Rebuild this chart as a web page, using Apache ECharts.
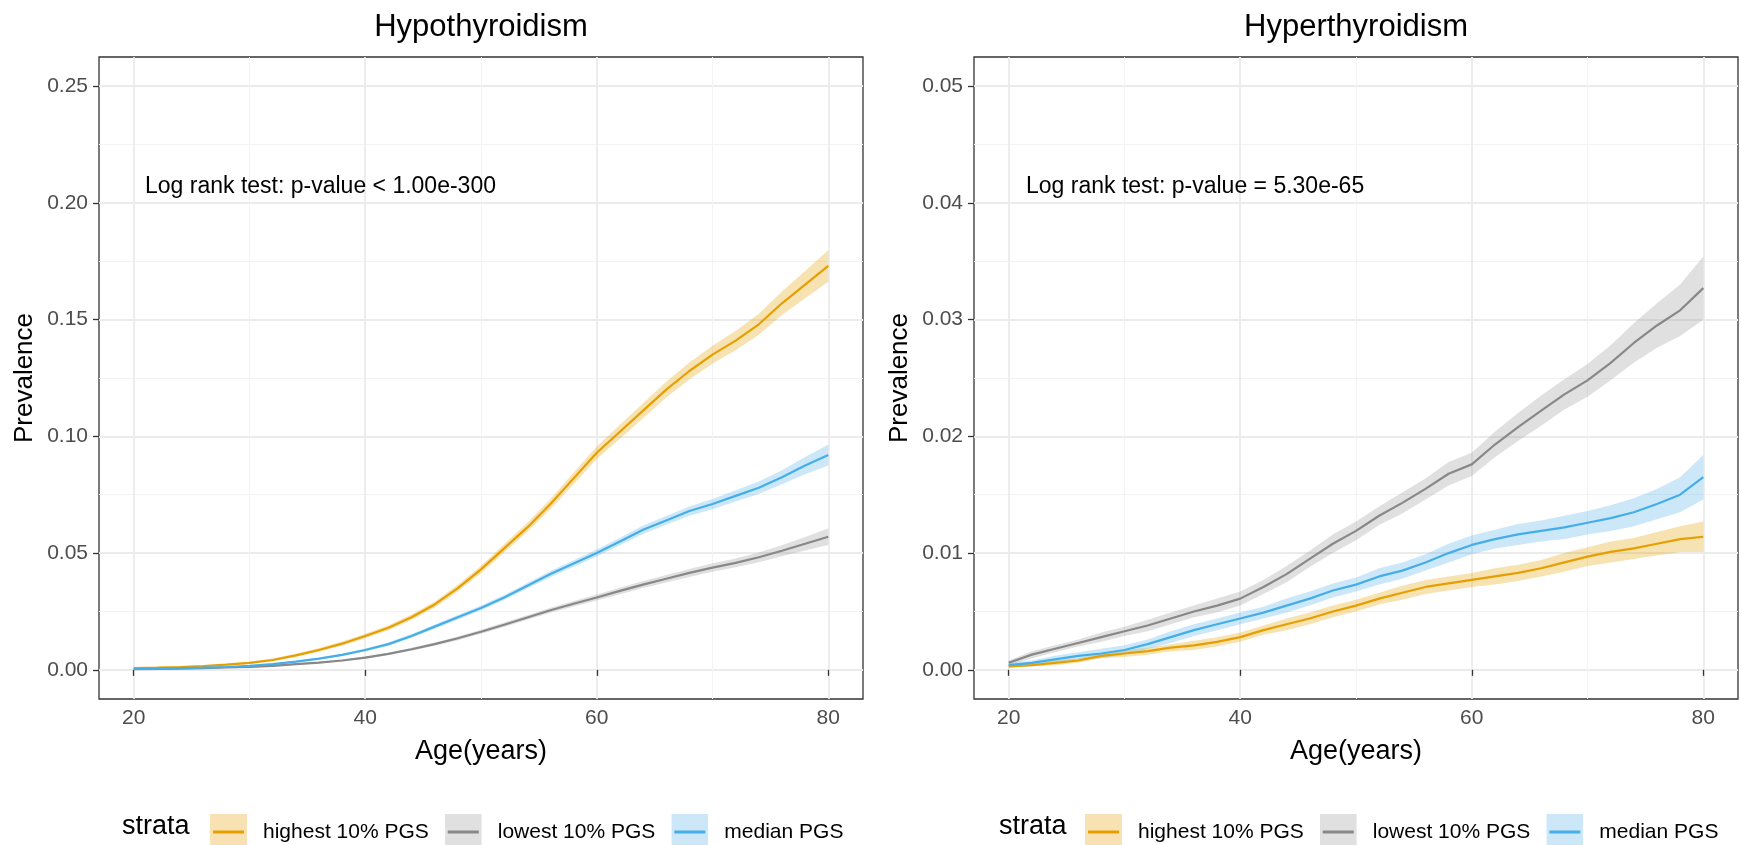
<!DOCTYPE html>
<html>
<head>
<meta charset="utf-8">
<script src="https://cdn.jsdelivr.net/npm/echarts@6/dist/echarts.min.js"></script>
<style>html,body{margin:0;padding:0;background:#fff;}#c{width:1741px;height:845px;}</style>
</head>
<body>
<div id="c"></div>
<script>
// ---------------- DATA ----------------
const ages = [20,22,24,26,28,30,32,34,36,38,40,42,44,46,48,50,52,54,56,58,60,62,64,66,68,70,72,74,76,78,80];
const strata = ['highest 10% PGS', 'lowest 10% PGS', 'median PGS'];

// Hypothyroidism (cumulative prevalence)
const hypoHigh = [0.0007,0.0009,0.0012,0.0016,0.0022,0.003,0.0042,0.0062,0.0085,0.0112,0.0145,0.018,0.0225,0.028,0.035,0.043,0.052,0.061,0.071,0.082,0.093,0.102,0.111,0.12,0.128,0.135,0.141,0.148,0.157,0.165,0.173];
const hypoLow  = [0.0003,0.0004,0.0005,0.0007,0.001,0.0013,0.0017,0.0024,0.0031,0.004,0.0052,0.0068,0.0088,0.011,0.0135,0.0163,0.0193,0.0224,0.0255,0.0283,0.031,0.0338,0.0365,0.039,0.0415,0.0438,0.0458,0.0482,0.051,0.054,0.057];
const hypoMed  = [0.0004,0.0005,0.0007,0.0009,0.0012,0.0017,0.0024,0.0035,0.0048,0.0064,0.0085,0.011,0.0145,0.0185,0.0225,0.0265,0.031,0.036,0.041,0.0455,0.05,0.055,0.06,0.064,0.068,0.071,0.0745,0.078,0.0825,0.0875,0.092];
// confidence band half-widths
const hypoHighCI = [0.0002,0.0002,0.0003,0.0003,0.0004,0.0005,0.0006,0.0007,0.0008,0.0009,0.001,0.0011,0.0012,0.0013,0.0014,0.0016,0.0018,0.002,0.0022,0.0025,0.0027,0.003,0.0032,0.0034,0.0036,0.0038,0.0041,0.0045,0.005,0.0058,0.0068];
const hypoLowCI  = [0.0001,0.0001,0.0001,0.0002,0.0002,0.0002,0.0003,0.0003,0.0004,0.0004,0.0005,0.0005,0.0006,0.0007,0.0008,0.0009,0.001,0.001,0.0011,0.0012,0.0013,0.0014,0.0015,0.0016,0.0017,0.0018,0.0019,0.0021,0.0024,0.0029,0.0035];
const hypoMedCI  = [0.0001,0.0001,0.0001,0.0002,0.0002,0.0002,0.0003,0.0003,0.0004,0.0005,0.0006,0.0007,0.0008,0.0009,0.001,0.001,0.0011,0.0012,0.0013,0.0014,0.0015,0.0016,0.0018,0.0019,0.002,0.0022,0.0024,0.0027,0.003,0.0037,0.0045];

// Hyperthyroidism
const hyperHigh = [0.0003,0.0004,0.0006,0.0008,0.0012,0.0014,0.0016,0.0019,0.0021,0.0024,0.0028,0.0034,0.0039,0.0044,0.005,0.0055,0.0061,0.0066,0.0071,0.0074,0.0077,0.008,0.0083,0.0087,0.0092,0.0097,0.0101,0.0104,0.0108,0.0112,0.0114];
const hyperLow  = [0.0006,0.0013,0.0018,0.0023,0.0028,0.0033,0.0038,0.0044,0.005,0.0055,0.0061,0.0071,0.0082,0.0095,0.0108,0.0119,0.0132,0.0143,0.0155,0.0168,0.0176,0.0193,0.0208,0.0222,0.0236,0.0248,0.0263,0.028,0.0295,0.0308,0.0327];
const hyperMed  = [0.0004,0.0006,0.0009,0.0012,0.0014,0.0017,0.0022,0.0028,0.0034,0.0039,0.0044,0.0049,0.0055,0.0061,0.0068,0.0073,0.008,0.0085,0.0092,0.01,0.0107,0.0112,0.0116,0.0119,0.0122,0.0126,0.013,0.0135,0.0142,0.015,0.0165];
const hyperHighCI = [0.0001,0.0001,0.0002,0.0002,0.0002,0.0003,0.0003,0.0003,0.0004,0.0004,0.0004,0.0004,0.0005,0.0005,0.0005,0.0005,0.0005,0.0006,0.0006,0.0006,0.0006,0.0007,0.0007,0.0007,0.0008,0.0008,0.0009,0.0009,0.001,0.0011,0.0013];
const hyperLowCI  = [0.0002,0.0003,0.0003,0.0003,0.0004,0.0004,0.0005,0.0005,0.0005,0.0006,0.0006,0.0006,0.0007,0.0007,0.0008,0.0008,0.0008,0.0009,0.0009,0.001,0.001,0.0011,0.0012,0.0013,0.0013,0.0014,0.0015,0.0017,0.0019,0.0022,0.0027];
const hyperMedCI  = [0.0002,0.0002,0.0003,0.0003,0.0004,0.0004,0.0004,0.0005,0.0005,0.0005,0.0005,0.0005,0.0006,0.0006,0.0006,0.0006,0.0007,0.0007,0.0007,0.0008,0.0008,0.0008,0.0009,0.0009,0.001,0.001,0.0011,0.0012,0.0013,0.0015,0.0019];

const xTicks = [20, 40, 60, 80];
const xMinor = [30, 50, 70];
const hypoYTicks = [0, 0.05, 0.10, 0.15, 0.20, 0.25];
const hypoYMinor = [0.025, 0.075, 0.125, 0.175, 0.225];
const hyperYTicks = [0, 0.01, 0.02, 0.03, 0.04, 0.05];
const hyperYMinor = [0.005, 0.015, 0.025, 0.035, 0.045];
const titles = ['Hypothyroidism', 'Hyperthyroidism'];
const pTexts = ['Log rank test: p-value < 1.00e-300', 'Log rank test: p-value = 5.30e-65'];

// ---------------- STYLE ----------------
const FONT = "'Liberation Sans', Arial, Helvetica, sans-serif";
const lineColors = ['#E69F00', '#888888', '#45AEE8'];
const bandColors = ['rgba(230,159,0,0.30)', 'rgba(153,153,153,0.30)', 'rgba(86,180,233,0.30)'];
const keyFill = ['#F8E2B3', '#E0E0E0', '#CCE8F8'];

const panels = [
  { left: 99, yMin: -0.0125, yMax: 0.2625, ticks: hypoYTicks, minor: hypoYMinor,
    series: [hypoHigh, hypoLow, hypoMed], ci: [hypoHighCI, hypoLowCI, hypoMedCI] },
  { left: 974, yMin: -0.0025, yMax: 0.0525, ticks: hyperYTicks, minor: hyperYMinor,
    series: [hyperHigh, hyperLow, hyperMed], ci: [hyperHighCI, hyperLowCI, hyperMedCI] }
];
const GRID_TOP = 57, GRID_W = 764, GRID_H = 642;

const grids = [], xAxes = [], yAxes = [], series = [], graphics = [], legends = [];

panels.forEach((p, g) => {
  grids.push({ left: p.left, top: GRID_TOP, width: GRID_W, height: GRID_H, show: true,
    borderColor: '#333333', borderWidth: 1.3, backgroundColor: 'transparent',
    containLabel: false, outerBoundsMode: 'none' });
  // major x
  xAxes.push({ type: 'value', gridIndex: g, min: 17, max: 83,
    name: 'Age(years)', nameLocation: 'middle', nameGap: 39,
    nameTextStyle: { fontSize: 27, color: '#000', fontFamily: FONT },
    axisLine: { show: false },
    axisTick: { show: true, length: 6, customValues: xTicks, lineStyle: { color: '#333', width: 1.3 } },
    axisLabel: { customValues: xTicks, fontSize: 21, color: '#4D4D4D', margin: 9, fontFamily: FONT },
    splitLine: { show: true, lineStyle: { color: '#EBEBEB', width: 1.8 } } });
  // minor x
  xAxes.push({ type: 'value', gridIndex: g, min: 17, max: 83, position: 'bottom',
    axisLine: { show: false },
    axisTick: { show: false, customValues: xMinor },
    axisLabel: { show: false, customValues: xMinor },
    splitLine: { show: true, lineStyle: { color: '#F3F3F3', width: 1 } } });
  // major y
  yAxes.push({ type: 'value', gridIndex: g, min: p.yMin, max: p.yMax,
    name: 'Prevalence', nameLocation: 'middle', nameGap: 61, nameRotate: 90,
    nameTextStyle: { fontSize: 26, color: '#000', fontFamily: FONT },
    axisLine: { show: false },
    axisTick: { show: true, length: 6, customValues: p.ticks, lineStyle: { color: '#333', width: 1.3 } },
    axisLabel: { customValues: p.ticks, fontSize: 21, color: '#4D4D4D', margin: 11, fontFamily: FONT,
      formatter: v => Number(v).toFixed(2) },
    splitLine: { show: true, lineStyle: { color: '#EBEBEB', width: 1.8 } } });
  // minor y
  yAxes.push({ type: 'value', gridIndex: g, min: p.yMin, max: p.yMax, position: 'left',
    axisLine: { show: false },
    axisTick: { show: false, customValues: p.minor },
    axisLabel: { show: false, customValues: p.minor },
    splitLine: { show: true, lineStyle: { color: '#F3F3F3', width: 1 } } });

  const xi = g * 2, yi = g * 2;
  // bands
  p.series.forEach((vals, s) => {
    const hw = p.ci[s];
    series.push({
      type: 'custom', name: strata[s], xAxisIndex: xi, yAxisIndex: yi, clip: true, silent: true, z: 2,
      data: [[ages[0], vals[0]]],
      renderItem: function (params, api) {
        const pts = [];
        for (let i = 0; i < ages.length; i++) pts.push(api.coord([ages[i], vals[i] + hw[i]]));
        for (let i = ages.length - 1; i >= 0; i--) pts.push(api.coord([ages[i], Math.max(0, vals[i] - hw[i])]));
        return { type: 'polygon', shape: { points: pts }, style: { fill: bandColors[s], stroke: null } };
      }
    });
  });
  // lines
  p.series.forEach((vals, s) => {
    series.push({
      type: 'line', name: strata[s], xAxisIndex: xi, yAxisIndex: yi, z: 3,
      data: ages.map((a, i) => [a, vals[i]]),
      showSymbol: false, symbol: 'none', smooth: false,
      lineStyle: { color: lineColors[s], width: 2.2 }, itemStyle: { color: lineColors[s] },
      emphasis: { disabled: true }
    });
  });

  const cx = p.left + GRID_W / 2;
  graphics.push({ type: 'text', z: 100, x: cx, y: 27, style: { text: titles[g], fontSize: 31, fontFamily: FONT,
    fill: '#000', align: 'center', verticalAlign: 'middle' } });
  graphics.push({ type: 'text', z: 100, x: p.left + (g === 0 ? 46 : 52), y: 187, style: { text: pTexts[g], fontSize: 23,
    fontFamily: FONT, fill: '#000', align: 'left', verticalAlign: 'middle' } });
  graphics.push({ type: 'text', z: 100, x: g === 0 ? 122 : 999, y: 827, style: { text: 'strata', fontSize: 27,
    fontFamily: FONT, fill: '#000', align: 'left', verticalAlign: 'middle' } });

  legends.push({
    show: true, orient: 'horizontal', left: g === 0 ? 205 : 1080, top: 808.5,
    itemWidth: 37, itemHeight: 37, itemGap: 16, selectedMode: false,
    textStyle: { fontSize: 21, color: '#000', fontFamily: FONT, padding: [0, 0, 0, 11] },
    data: strata.map((n, s) => {
      const svg = "<svg xmlns='http://www.w3.org/2000/svg' width='37' height='37'>" +
        "<rect width='37' height='37' fill='" + keyFill[s] + "'/>" +
        "<line x1='3' y1='18.5' x2='34' y2='18.5' stroke='" + lineColors[s] + "' stroke-width='3'/></svg>";
      return { name: n, icon: 'image://data:image/svg+xml;charset=utf-8,' + encodeURIComponent(svg) };
    })
  });
});

const chart = echarts.init(document.getElementById('c'), null, { renderer: 'canvas' });
chart.setOption({
  backgroundColor: '#fff',
  animation: false,
  textStyle: { fontFamily: FONT },
  grid: grids, xAxis: xAxes, yAxis: yAxes, series: series,
  legend: legends, graphic: graphics, tooltip: { show: false }
});
</script>
</body>
</html>
